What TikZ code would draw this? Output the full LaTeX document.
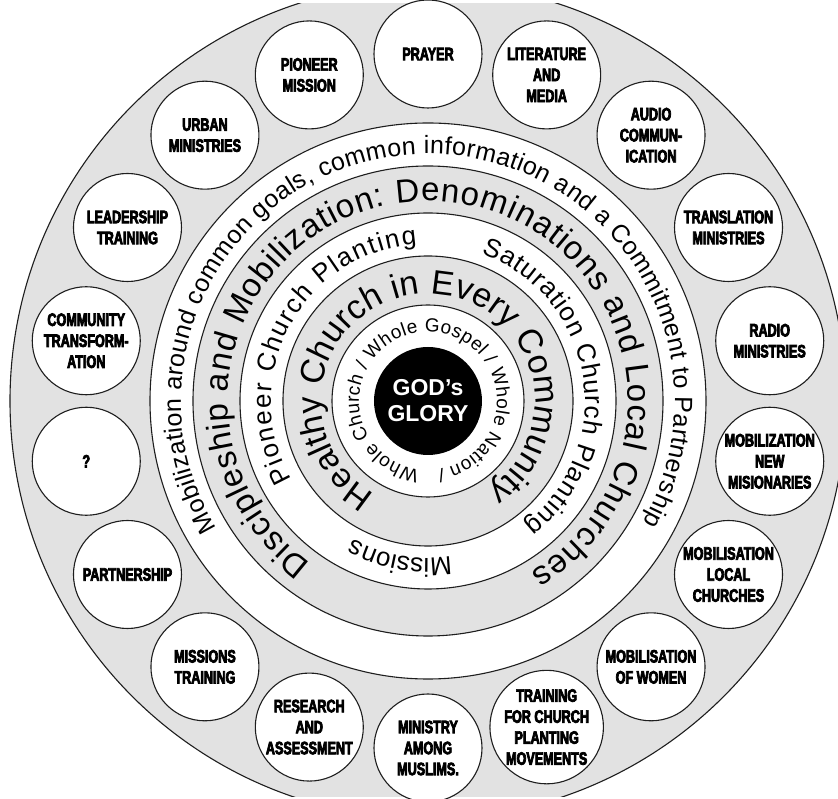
\documentclass[tikz,border=0pt]{standalone}
\usepackage{fontspec}
\setmainfont{Liberation Sans}
\newfontfamily\ringfont{Liberation Sans}
\newfontfamily\labfont[FakeStretch=0.7,FakeBold=4]{Liberation Sans Bold}
\usetikzlibrary{decorations.text}
\definecolor{ringgray}{RGB}{226,226,226}
\definecolor{edge}{RGB}{30,30,30}
\tikzset{
  ring/.style={draw=edge,line width=1.1pt},
  bubble/.style={circle,draw=edge,line width=1.1pt,fill=white,minimum size=108pt,inner sep=0pt,align=center,font=\labfont\fontsize{18}{21}\selectfont},
  core/.style={circle,fill=black,minimum size=108pt,inner sep=0pt,align=center,text=white,font=\bfseries\fontsize{23}{26}\selectfont},
  ringtext/.style n args={2}{decorate,decoration={text along path,text align=fit to path,text={|\ringfont\fontsize{#1}{#1}\selectfont|#2}}}
}
\begin{document}
\begin{tikzpicture}[x=1pt,y=1pt]
\useasboundingbox (-428,-398) rectangle (410,401);
\fill[white] (-428,-398) rectangle (410,401);
\begin{scope}
  \clip (-428,-396) rectangle (410,397);
  \fill[ringgray] (0,0) circle[radius=418];
  \draw[ring] (0,0) circle[radius=418];
\end{scope}
\filldraw[ring,fill=white] (0,0) circle[radius=278];
\filldraw[ring,fill=ringgray] (0,0) circle[radius=235];
\filldraw[ring,fill=white] (0,0) circle[radius=188];
\filldraw[ring,fill=ringgray] (0,0) circle[radius=145];
\filldraw[ring,fill=white] (0,0) circle[radius=96];
\node[core] (glory) at (0,0) {GOD’s\\GLORY};

\foreach \k/\txt in {0/PRAYER,1/{LITERATURE\\AND\\MEDIA},2/{AUDIO\\COMMUN-\\ICATION},
  3/{TRANSLATION\\MINISTRIES},4/{RADIO\\MINISTRIES},5/{MOBILIZATION\\NEW\\MISIONARIES},
  6/{MOBILISATION\\LOCAL\\CHURCHES},7/{MOBILISATION\\OF WOMEN},
  8/{TRAINING\\FOR CHURCH\\PLANTING\\MOVEMENTS},9/{MINISTRY\\AMONG\\MUSLIMS.},
  10/{RESEARCH\\AND\\ASSESSMENT},11/{MISSIONS\\TRAINING},12/PARTNERSHIP,13/?,
  14/{COMMUNITY\\TRANSFORM-\\ATION},15/{LEADERSHIP\\TRAINING},16/{URBAN\\MINISTRIES},
  17/{PIONEER\\MISSION}}
  \node[bubble] (b\k) at ({90-20*\k}:347) {\txt};

\path[ringtext={19}{Whole Church / Whole Gospel / Whole Nation /}]
  (-97:69) arc[start angle=-97,end angle=-442,radius=69];
\path[ringtext={34}{Healthy Church in Every Community}]
  (-120:107) arc[start angle=-120,end angle=-416,radius=107];
\path[ringtext={26}{Pioneer Church Planting}]
  (210:157) arc[start angle=210,end angle=94,radius=157];
\path[ringtext={26}{Saturation Church Planting}]
  (70:157) arc[start angle=70,end angle=-52,radius=157];
\path[decorate,decoration={text along path,text align=center,text={|\ringfont\fontsize{26}{26}\selectfont|Missions}}]
  (-60:157) arc[start angle=-60,end angle=-140,radius=157];
\path[ringtext={33}{Discipleship and Mobilization: Denominations and Local Churches}]
  (-126:200) arc[start angle=-126,end angle=-419,radius=200];
\path[ringtext={25}{Mobilization around common goals, common information and a Commitment to Partnership}]
  (-149:247) arc[start angle=-149,end angle=-389.5,radius=247];
\end{tikzpicture}
\end{document}
